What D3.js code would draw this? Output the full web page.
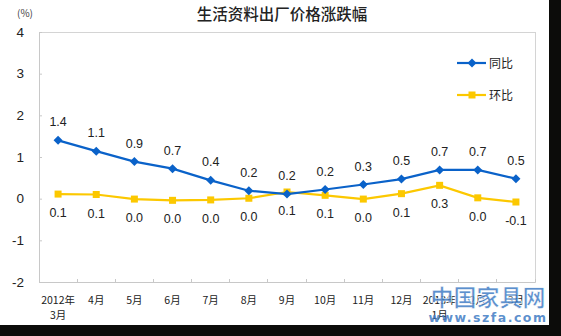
<!DOCTYPE html>
<html><head><meta charset="utf-8">
<script src="https://cdn.jsdelivr.net/npm/d3@7"></script>
<style>body{margin:0;background:#fff}svg{display:block}</style>
</head><body>
<script>
const categories = ["2012年|3月","4月","5月","6月","7月","8月","9月","10月","11月","12月","2013年|1月","2月","3月"];
const yoyValues = [1.40,1.14,0.89,0.72,0.44,0.19,0.11,0.22,0.34,0.47,0.69,0.69,0.48];
const yoyLabels = ["1.4","1.1","0.9","0.7","0.4","0.2","0.2","0.2","0.3","0.5","0.7","0.7","0.5"];
const momValues = [0.11,0.10,-0.01,-0.04,-0.03,0.01,0.16,0.08,-0.01,0.12,0.32,0.02,-0.08];
const momLabels = ["0.1","0.1","0.0","0.0","0.0","0.0","0.1","0.1","0.0","0.1","0.3","0.0","-0.1"];
const yTicks = [4,3,2,1,0,-1,-2];
const seriesNames = ["同比","环比"];

const W=561,H=336;
const svg=d3.select("body").append("svg").attr("width",W).attr("height",H);
svg.append("rect").attr("width",W).attr("height",H).attr("fill","#fff");

const L=39,R=535,T=32,B=282;
const x=d3.scaleBand().domain(categories).range([L,R]);
const y=d3.scaleLinear().domain([-2,4]).range([B,T]);
const cx=d=>x(d)+x.bandwidth()/2;

// plot frame
svg.append("rect").attr("x",L).attr("y",T).attr("width",R-L).attr("height",B-T)
  .attr("fill","#fff").attr("stroke","#d4d4d4").attr("stroke-width",1).attr("shape-rendering","crispEdges");

// y axis
const yAxis=d3.axisLeft(y).tickValues(yTicks).tickFormat(d=>String(d)).tickSizeInner(-3).tickSizeOuter(0).tickPadding(15);
const gy=svg.append("g").attr("transform",`translate(${L},0)`).call(yAxis);
gy.select(".domain").attr("stroke","#c8c8c8");
gy.selectAll(".tick line").attr("stroke","#c8c8c8");
gy.selectAll(".tick text").attr("font-family","Liberation Sans, Arial, sans-serif").attr("font-size",13.5).attr("fill","#222");

// x axis
const bounds=categories.map(c=>x(c)).concat([R]);
const gx=svg.append("g");
gx.append("line").attr("x1",L).attr("x2",R).attr("y1",B).attr("y2",B).attr("stroke","#c8c8c8").attr("shape-rendering","crispEdges");
gx.selectAll("line.t").data(bounds).join("line").attr("class","t")
  .attr("x1",d=>d).attr("x2",d=>d).attr("y1",B).attr("y2",B-3).attr("stroke","#c8c8c8").attr("shape-rendering","crispEdges");
gx.selectAll("text").data(categories).join("text")
  .attr("x",d=>cx(d)).attr("y",B+22).attr("text-anchor","middle")
  .attr("font-family","Noto Sans CJK SC, sans-serif").attr("font-size",10.5).attr("fill","#222")
  .each(function(d){
    const parts=d.split("|");
    const t=d3.select(this);
    parts.forEach((p,i)=>t.append("tspan").attr("x",cx(d)).attr("dy",i?15:0).text(p));
  });

// title
svg.append("text").attr("x",282).attr("y",20).attr("text-anchor","middle")
  .attr("font-family","Noto Sans CJK SC, sans-serif").attr("font-size",15.5).attr("font-weight",500).attr("fill","#222").text("生活资料出厂价格涨跌幅");
svg.append("text").attr("x",17).attr("y",17).attr("font-family","Noto Sans CJK SC, sans-serif")
  .attr("font-size",10).attr("fill","#444").text("(%)");

const blue="#0a62c9", yellow="#fcc800";
const line=d3.line().x((d,i)=>cx(categories[i])).y(d=>y(d));

// mom (yellow)
svg.append("path").datum(momValues).attr("d",line).attr("fill","none").attr("stroke",yellow).attr("stroke-width",2.2);
svg.selectAll("rect.m").data(momValues).join("rect").attr("class","m")
  .attr("x",(d,i)=>cx(categories[i])-3.5).attr("y",d=>y(d)-3.5).attr("width",7).attr("height",7).attr("fill",yellow);
// yoy (blue)
svg.append("path").datum(yoyValues).attr("d",line).attr("fill","none").attr("stroke",blue).attr("stroke-width",2.2);
const diamond=d3.symbol().type(d3.symbolDiamond2).size(52);
svg.selectAll("path.y").data(yoyValues).join("path").attr("class","y")
  .attr("transform",(d,i)=>`translate(${cx(categories[i])},${y(d)})`).attr("d",diamond).attr("fill",blue);

// labels
const lf="Liberation Sans, Arial, sans-serif";
svg.selectAll("text.yl").data(yoyValues).join("text").attr("class","yl")
  .attr("x",(d,i)=>cx(categories[i])).attr("y",d=>y(d)-14).attr("text-anchor","middle")
  .attr("font-family",lf).attr("font-size",12.5).attr("fill","#222").text((d,i)=>yoyLabels[i]);
svg.selectAll("text.ml").data(momValues).join("text").attr("class","ml")
  .attr("x",(d,i)=>cx(categories[i])).attr("y",d=>y(d)+23).attr("text-anchor","middle")
  .attr("font-family",lf).attr("font-size",12.5).attr("fill","#222").text((d,i)=>momLabels[i]);

// legend
const lg=[{n:seriesNames[0],c:blue,ty:63},{n:seriesNames[1],c:yellow,ty:95}];
lg.forEach((s,k)=>{
  svg.append("line").attr("x1",457).attr("x2",486).attr("y1",s.ty).attr("y2",s.ty).attr("stroke",s.c).attr("stroke-width",2.2);
  if(k===0) svg.append("path").attr("transform",`translate(472,${s.ty})`).attr("d",diamond).attr("fill",s.c);
  else svg.append("rect").attr("x",468.5).attr("y",s.ty-3.5).attr("width",7).attr("height",7).attr("fill",s.c);
  svg.append("text").attr("x",489).attr("y",s.ty+4.5).attr("font-family","Noto Sans CJK SC, sans-serif")
    .attr("font-size",12).attr("fill","#222").text(s.n);
});

// black borders
svg.append("rect").attr("x",549).attr("y",0).attr("width",12).attr("height",H).attr("fill","#0c0c0a");
svg.append("rect").attr("x",0).attr("y",325).attr("width",W).attr("height",11).attr("fill","#0c0c0a");

// watermark
svg.append("text").attr("x",488).attr("y",306).attr("text-anchor","middle")
  .attr("font-family","Noto Sans CJK SC, sans-serif").attr("font-weight","bold").attr("font-size",23)
  .attr("fill","#3f7cc4").attr("fill-opacity",0.85).attr("stroke","#fff").attr("stroke-width",0.6).text("中国家具网");
svg.append("text").attr("x",488).attr("y",322).attr("text-anchor","middle")
  .attr("font-family","DejaVu Sans, sans-serif").attr("font-weight","bold").attr("font-size",12.5)
  .attr("letter-spacing",1.5).attr("fill","#3f7cc4").attr("fill-opacity",0.85).text("www.szfa.com");
</script>
</body></html>
